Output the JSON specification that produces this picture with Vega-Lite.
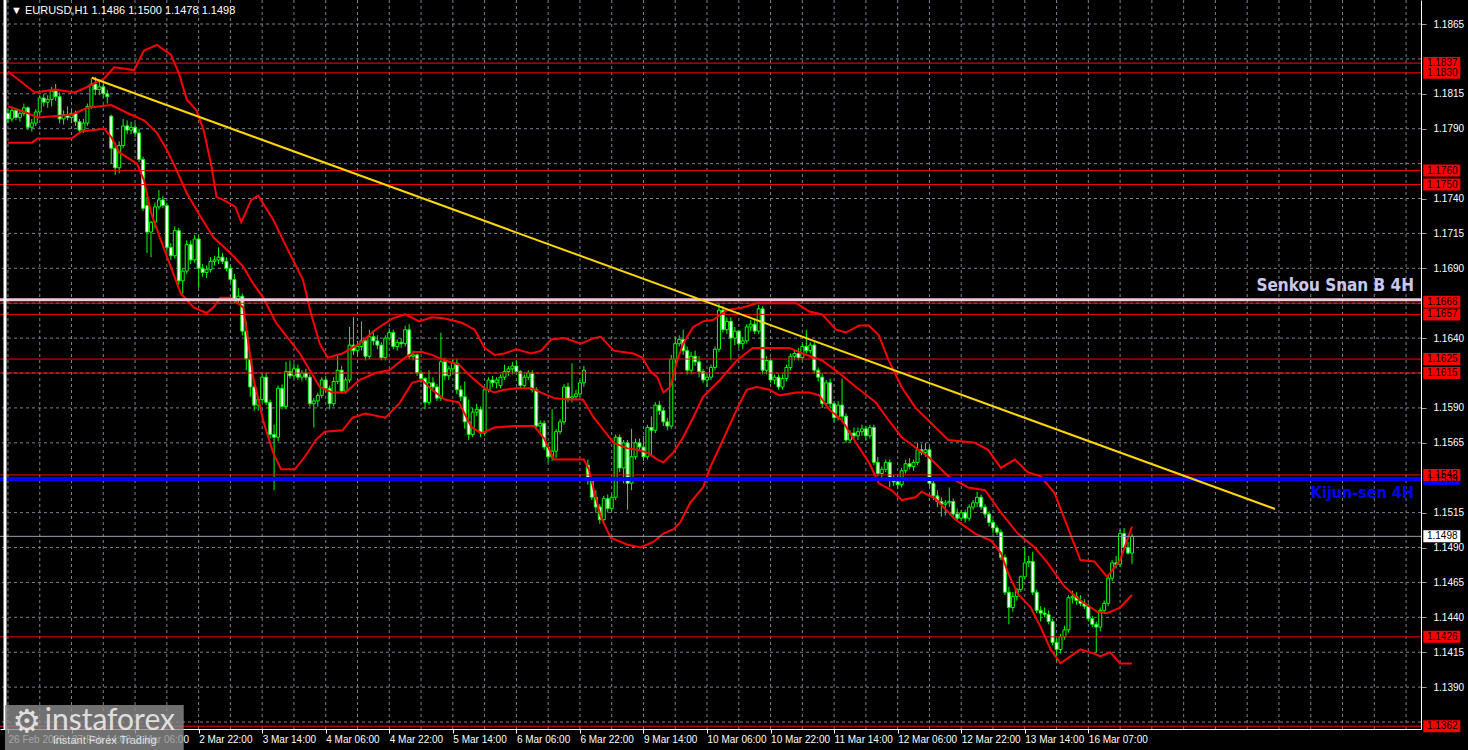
{
"$schema":"https://vega.github.io/schema/vega-lite/v6.json",
"width":1421,"height":729,
"autosize":{"type":"none"},
"padding":{"left":0,"top":0,"right":47,"bottom":21},
"background":"#000000",
"config":{"view":{"stroke":null},"axis":{"title":null,"labelFont":"Liberation Sans"},"text":{"font":"Liberation Sans"}},
"datasets":{
"vgrid":[{"i":0},{"i":8},{"i":16},{"i":24},{"i":32},{"i":40},{"i":48},{"i":56},{"i":64},{"i":72},{"i":80},{"i":88},{"i":96},{"i":104},{"i":112},{"i":120},{"i":128},{"i":136},{"i":144},{"i":152},{"i":160},{"i":168},{"i":176},{"i":184},{"i":192},{"i":200},{"i":208},{"i":216},{"i":224},{"i":232},{"i":240},{"i":248},{"i":256},{"i":264},{"i":272},{"i":280},{"i":288},{"i":296},{"i":304},{"i":312},{"i":320},{"i":328},{"i":336},{"i":344},{"i":352}],
"hgrid":[{"p":1.1365},{"p":1.139},{"p":1.1415},{"p":1.144},{"p":1.1465},{"p":1.149},{"p":1.1515},{"p":1.154},{"p":1.1565},{"p":1.159},{"p":1.1615},{"p":1.164},{"p":1.1665},{"p":1.169},{"p":1.1715},{"p":1.174},{"p":1.1765},{"p":1.179},{"p":1.1815},{"p":1.184},{"p":1.1865}],
"candles":[
{"i":0,"o":1.1801,"h":1.1804,"l":1.1794,"c":1.1797},
{"i":1,"o":1.1797,"h":1.1806,"l":1.1795,"c":1.1803},
{"i":2,"o":1.1803,"h":1.1805,"l":1.1796,"c":1.1798},
{"i":3,"o":1.1798,"h":1.1803,"l":1.1795,"c":1.1801},
{"i":4,"o":1.1801,"h":1.1808,"l":1.1799,"c":1.1805},
{"i":5,"o":1.1805,"h":1.1806,"l":1.1789,"c":1.1791},
{"i":6,"o":1.1791,"h":1.1797,"l":1.1788,"c":1.1794},
{"i":7,"o":1.1794,"h":1.1804,"l":1.1792,"c":1.1802},
{"i":8,"o":1.1802,"h":1.1814,"l":1.18,"c":1.1812},
{"i":9,"o":1.1812,"h":1.1815,"l":1.1806,"c":1.1809},
{"i":10,"o":1.1809,"h":1.1814,"l":1.1805,"c":1.1811},
{"i":11,"o":1.1811,"h":1.182,"l":1.1806,"c":1.1817},
{"i":12,"o":1.1817,"h":1.1822,"l":1.181,"c":1.1813},
{"i":13,"o":1.1813,"h":1.1816,"l":1.1794,"c":1.1797},
{"i":14,"o":1.1797,"h":1.1803,"l":1.1793,"c":1.18},
{"i":15,"o":1.18,"h":1.1806,"l":1.1796,"c":1.1798},
{"i":16,"o":1.1798,"h":1.1804,"l":1.1794,"c":1.1801},
{"i":17,"o":1.1801,"h":1.1803,"l":1.1792,"c":1.1795},
{"i":18,"o":1.1795,"h":1.1797,"l":1.1786,"c":1.1789},
{"i":19,"o":1.1789,"h":1.1797,"l":1.1787,"c":1.1794},
{"i":20,"o":1.1794,"h":1.1808,"l":1.1792,"c":1.1806},
{"i":21,"o":1.1806,"h":1.1826,"l":1.1804,"c":1.1822},
{"i":22,"o":1.1822,"h":1.1827,"l":1.1814,"c":1.1818},
{"i":23,"o":1.1818,"h":1.1824,"l":1.1814,"c":1.182},
{"i":24,"o":1.182,"h":1.1823,"l":1.1812,"c":1.1815},
{"i":25,"o":1.1815,"h":1.1818,"l":1.1808,"c":1.1813},
{"i":26,"o":1.1799,"h":1.18,"l":1.1765,"c":1.1776},
{"i":27,"o":1.1776,"h":1.178,"l":1.1757,"c":1.1762},
{"i":28,"o":1.1762,"h":1.1781,"l":1.1758,"c":1.1778},
{"i":29,"o":1.1778,"h":1.1797,"l":1.1776,"c":1.1792},
{"i":30,"o":1.1792,"h":1.1796,"l":1.1786,"c":1.1789},
{"i":31,"o":1.1789,"h":1.1795,"l":1.1786,"c":1.1791},
{"i":32,"o":1.1791,"h":1.1794,"l":1.1784,"c":1.1787},
{"i":33,"o":1.1787,"h":1.179,"l":1.1766,"c":1.1768},
{"i":34,"o":1.1768,"h":1.177,"l":1.1731,"c":1.1733},
{"i":35,"o":1.1735,"h":1.1741,"l":1.1701,"c":1.1716},
{"i":36,"o":1.1716,"h":1.1724,"l":1.1698,"c":1.1723},
{"i":37,"o":1.1723,"h":1.1737,"l":1.1719,"c":1.1734},
{"i":38,"o":1.1734,"h":1.1746,"l":1.1732,"c":1.1739},
{"i":39,"o":1.1739,"h":1.1742,"l":1.1733,"c":1.1735},
{"i":40,"o":1.1735,"h":1.1737,"l":1.1702,"c":1.1705},
{"i":41,"o":1.1705,"h":1.1708,"l":1.1696,"c":1.1699},
{"i":42,"o":1.1699,"h":1.172,"l":1.1697,"c":1.1717},
{"i":43,"o":1.1717,"h":1.1719,"l":1.1678,"c":1.1681},
{"i":44,"o":1.1681,"h":1.169,"l":1.1672,"c":1.1688},
{"i":45,"o":1.1688,"h":1.171,"l":1.1686,"c":1.1707},
{"i":46,"o":1.1707,"h":1.171,"l":1.1693,"c":1.1696},
{"i":47,"o":1.1696,"h":1.1714,"l":1.1694,"c":1.1711},
{"i":48,"o":1.1711,"h":1.1713,"l":1.1676,"c":1.169},
{"i":49,"o":1.169,"h":1.1693,"l":1.1684,"c":1.1687},
{"i":50,"o":1.1687,"h":1.1692,"l":1.1683,"c":1.1689},
{"i":51,"o":1.1689,"h":1.1698,"l":1.1687,"c":1.1695},
{"i":52,"o":1.1695,"h":1.1699,"l":1.1692,"c":1.1696},
{"i":53,"o":1.1696,"h":1.1705,"l":1.1693,"c":1.1698},
{"i":54,"o":1.1698,"h":1.1701,"l":1.1693,"c":1.1695},
{"i":55,"o":1.1695,"h":1.1698,"l":1.1688,"c":1.169},
{"i":56,"o":1.169,"h":1.1692,"l":1.168,"c":1.1682},
{"i":57,"o":1.1682,"h":1.1686,"l":1.1665,"c":1.1668},
{"i":58,"o":1.1668,"h":1.1676,"l":1.1664,"c":1.167},
{"i":59,"o":1.167,"h":1.1672,"l":1.1642,"c":1.1645},
{"i":60,"o":1.1645,"h":1.1652,"l":1.1617,"c":1.1625},
{"i":61,"o":1.1625,"h":1.1628,"l":1.1598,"c":1.1605},
{"i":62,"o":1.1605,"h":1.1609,"l":1.1588,"c":1.1592},
{"i":63,"o":1.1592,"h":1.1598,"l":1.1588,"c":1.1596},
{"i":64,"o":1.1596,"h":1.1614,"l":1.1594,"c":1.1612},
{"i":65,"o":1.1612,"h":1.1615,"l":1.1592,"c":1.1594},
{"i":66,"o":1.1594,"h":1.1596,"l":1.1568,"c":1.1571},
{"i":67,"o":1.1571,"h":1.1578,"l":1.1531,"c":1.1569},
{"i":68,"o":1.1569,"h":1.1606,"l":1.1566,"c":1.1604},
{"i":69,"o":1.1604,"h":1.1607,"l":1.1589,"c":1.1591},
{"i":70,"o":1.1591,"h":1.1623,"l":1.1589,"c":1.1616},
{"i":71,"o":1.1616,"h":1.1624,"l":1.1611,"c":1.1613},
{"i":72,"o":1.1613,"h":1.1622,"l":1.1611,"c":1.1618},
{"i":73,"o":1.1618,"h":1.1621,"l":1.161,"c":1.1612},
{"i":74,"o":1.1612,"h":1.1617,"l":1.1609,"c":1.1615},
{"i":75,"o":1.1615,"h":1.1618,"l":1.161,"c":1.1612},
{"i":76,"o":1.1612,"h":1.1614,"l":1.1591,"c":1.1593},
{"i":77,"o":1.1593,"h":1.1597,"l":1.1576,"c":1.1595},
{"i":78,"o":1.1595,"h":1.1601,"l":1.1591,"c":1.1599},
{"i":79,"o":1.1599,"h":1.1612,"l":1.1597,"c":1.161},
{"i":80,"o":1.161,"h":1.1613,"l":1.1601,"c":1.1604},
{"i":81,"o":1.1604,"h":1.1606,"l":1.1589,"c":1.1593},
{"i":82,"o":1.1593,"h":1.1612,"l":1.1591,"c":1.1609},
{"i":83,"o":1.1609,"h":1.1628,"l":1.1607,"c":1.1617},
{"i":84,"o":1.1617,"h":1.162,"l":1.16,"c":1.1602},
{"i":85,"o":1.1602,"h":1.1612,"l":1.16,"c":1.161},
{"i":86,"o":1.161,"h":1.1648,"l":1.1608,"c":1.1635},
{"i":87,"o":1.1635,"h":1.1655,"l":1.1628,"c":1.1631},
{"i":88,"o":1.1631,"h":1.1638,"l":1.1627,"c":1.1634},
{"i":89,"o":1.1634,"h":1.1652,"l":1.1631,"c":1.1638},
{"i":90,"o":1.1638,"h":1.164,"l":1.1624,"c":1.1627},
{"i":91,"o":1.1627,"h":1.1646,"l":1.1625,"c":1.1641},
{"i":92,"o":1.1641,"h":1.1644,"l":1.1635,"c":1.1638},
{"i":93,"o":1.1638,"h":1.1642,"l":1.1632,"c":1.1635},
{"i":94,"o":1.1635,"h":1.1637,"l":1.1624,"c":1.1626},
{"i":95,"o":1.1626,"h":1.1642,"l":1.1624,"c":1.164},
{"i":96,"o":1.164,"h":1.1647,"l":1.1638,"c":1.1644},
{"i":97,"o":1.1644,"h":1.1646,"l":1.1632,"c":1.1634},
{"i":98,"o":1.1634,"h":1.1639,"l":1.1631,"c":1.1637},
{"i":99,"o":1.1637,"h":1.164,"l":1.1633,"c":1.1636},
{"i":100,"o":1.1636,"h":1.1649,"l":1.1634,"c":1.1646},
{"i":101,"o":1.1646,"h":1.165,"l":1.1625,"c":1.1627},
{"i":102,"o":1.1627,"h":1.1631,"l":1.1624,"c":1.1628},
{"i":103,"o":1.1628,"h":1.1629,"l":1.1613,"c":1.1615},
{"i":104,"o":1.1615,"h":1.1617,"l":1.1608,"c":1.1611},
{"i":105,"o":1.1611,"h":1.1612,"l":1.1589,"c":1.1594},
{"i":106,"o":1.1594,"h":1.1617,"l":1.1592,"c":1.1608},
{"i":107,"o":1.1608,"h":1.1612,"l":1.1603,"c":1.1605},
{"i":108,"o":1.1605,"h":1.1607,"l":1.1595,"c":1.1597},
{"i":109,"o":1.1597,"h":1.1644,"l":1.1595,"c":1.1623},
{"i":110,"o":1.1623,"h":1.1626,"l":1.161,"c":1.1613},
{"i":111,"o":1.1613,"h":1.162,"l":1.161,"c":1.1618},
{"i":112,"o":1.1618,"h":1.1625,"l":1.1615,"c":1.1622},
{"i":113,"o":1.1622,"h":1.1625,"l":1.16,"c":1.1603},
{"i":114,"o":1.1603,"h":1.1606,"l":1.1595,"c":1.1598},
{"i":115,"o":1.1598,"h":1.1609,"l":1.1575,"c":1.158},
{"i":116,"o":1.158,"h":1.1596,"l":1.1567,"c":1.1571},
{"i":117,"o":1.1571,"h":1.159,"l":1.1569,"c":1.1587},
{"i":118,"o":1.1587,"h":1.1593,"l":1.1584,"c":1.1589},
{"i":119,"o":1.1589,"h":1.1591,"l":1.1569,"c":1.1572},
{"i":120,"o":1.1572,"h":1.1605,"l":1.157,"c":1.1603},
{"i":121,"o":1.1603,"h":1.1612,"l":1.1601,"c":1.161},
{"i":122,"o":1.161,"h":1.1613,"l":1.1605,"c":1.1608},
{"i":123,"o":1.1608,"h":1.1612,"l":1.1604,"c":1.161},
{"i":124,"o":1.1606,"h":1.1614,"l":1.1604,"c":1.1612},
{"i":125,"o":1.1612,"h":1.1621,"l":1.161,"c":1.1616},
{"i":126,"o":1.1616,"h":1.162,"l":1.1613,"c":1.1618},
{"i":127,"o":1.1618,"h":1.1623,"l":1.1614,"c":1.162},
{"i":128,"o":1.162,"h":1.1624,"l":1.1614,"c":1.1616},
{"i":129,"o":1.1616,"h":1.1617,"l":1.1604,"c":1.1606},
{"i":130,"o":1.1606,"h":1.1614,"l":1.1604,"c":1.1612},
{"i":131,"o":1.1612,"h":1.1617,"l":1.161,"c":1.1615},
{"i":132,"o":1.1615,"h":1.1617,"l":1.1601,"c":1.1603},
{"i":133,"o":1.1603,"h":1.1605,"l":1.1574,"c":1.1577},
{"i":134,"o":1.1577,"h":1.1581,"l":1.1571,"c":1.1579},
{"i":135,"o":1.1579,"h":1.1581,"l":1.156,"c":1.1562},
{"i":136,"o":1.1562,"h":1.1565,"l":1.1551,"c":1.1555},
{"i":137,"o":1.1555,"h":1.1589,"l":1.1552,"c":1.1559},
{"i":138,"o":1.1559,"h":1.1575,"l":1.1554,"c":1.1573},
{"i":139,"o":1.1573,"h":1.1582,"l":1.1571,"c":1.158},
{"i":140,"o":1.158,"h":1.1607,"l":1.1578,"c":1.1605},
{"i":141,"o":1.1605,"h":1.1608,"l":1.1594,"c":1.1597},
{"i":142,"o":1.1597,"h":1.1622,"l":1.1594,"c":1.1598},
{"i":143,"o":1.1598,"h":1.1603,"l":1.1596,"c":1.16},
{"i":144,"o":1.16,"h":1.161,"l":1.1598,"c":1.1608},
{"i":145,"o":1.1608,"h":1.162,"l":1.1605,"c":1.1617},
{"i":146,"o":1.1549,"h":1.1553,"l":1.1535,"c":1.1538},
{"i":147,"o":1.1538,"h":1.154,"l":1.1524,"c":1.1526},
{"i":148,"o":1.1526,"h":1.1531,"l":1.1515,"c":1.1519},
{"i":149,"o":1.1519,"h":1.1521,"l":1.1507,"c":1.151},
{"i":150,"o":1.151,"h":1.1527,"l":1.1508,"c":1.1525},
{"i":151,"o":1.1525,"h":1.1528,"l":1.1515,"c":1.1518},
{"i":152,"o":1.1518,"h":1.1528,"l":1.1516,"c":1.1526},
{"i":153,"o":1.1526,"h":1.1571,"l":1.1524,"c":1.1569},
{"i":154,"o":1.1569,"h":1.1571,"l":1.1544,"c":1.1547},
{"i":155,"o":1.1547,"h":1.1567,"l":1.1536,"c":1.1565},
{"i":156,"o":1.1565,"h":1.1567,"l":1.1517,"c":1.1536},
{"i":157,"o":1.1536,"h":1.1575,"l":1.1531,"c":1.1555},
{"i":158,"o":1.1555,"h":1.1568,"l":1.1553,"c":1.1565},
{"i":159,"o":1.1565,"h":1.1568,"l":1.156,"c":1.1562},
{"i":160,"o":1.1562,"h":1.157,"l":1.1552,"c":1.1555},
{"i":161,"o":1.1555,"h":1.1578,"l":1.1553,"c":1.1576},
{"i":162,"o":1.1576,"h":1.1584,"l":1.1555,"c":1.1574},
{"i":163,"o":1.1574,"h":1.1594,"l":1.1572,"c":1.1592},
{"i":164,"o":1.1592,"h":1.1595,"l":1.1585,"c":1.1588},
{"i":165,"o":1.1588,"h":1.159,"l":1.1577,"c":1.158},
{"i":166,"o":1.158,"h":1.1583,"l":1.1574,"c":1.1577},
{"i":167,"o":1.1577,"h":1.1628,"l":1.1575,"c":1.1625},
{"i":168,"o":1.1625,"h":1.1641,"l":1.161,"c":1.1636},
{"i":169,"o":1.1636,"h":1.1642,"l":1.1634,"c":1.1639},
{"i":170,"o":1.1639,"h":1.1646,"l":1.1628,"c":1.1631},
{"i":171,"o":1.1631,"h":1.1634,"l":1.1614,"c":1.1617},
{"i":172,"o":1.1617,"h":1.163,"l":1.1614,"c":1.1627},
{"i":173,"o":1.1627,"h":1.1631,"l":1.162,"c":1.1623},
{"i":174,"o":1.1623,"h":1.1627,"l":1.1612,"c":1.1616},
{"i":175,"o":1.1616,"h":1.1618,"l":1.1608,"c":1.161},
{"i":176,"o":1.161,"h":1.1614,"l":1.1605,"c":1.1612},
{"i":177,"o":1.1612,"h":1.1621,"l":1.161,"c":1.1619},
{"i":178,"o":1.1619,"h":1.1634,"l":1.1617,"c":1.1632},
{"i":179,"o":1.1632,"h":1.1665,"l":1.163,"c":1.166},
{"i":180,"o":1.166,"h":1.1663,"l":1.1644,"c":1.1646},
{"i":181,"o":1.1646,"h":1.1655,"l":1.1643,"c":1.1652},
{"i":182,"o":1.1652,"h":1.1655,"l":1.1624,"c":1.164},
{"i":183,"o":1.164,"h":1.1648,"l":1.1635,"c":1.1645},
{"i":184,"o":1.1645,"h":1.1646,"l":1.1633,"c":1.1636},
{"i":185,"o":1.1636,"h":1.1641,"l":1.1632,"c":1.1638},
{"i":186,"o":1.1638,"h":1.165,"l":1.1636,"c":1.1648},
{"i":187,"o":1.1648,"h":1.1653,"l":1.1645,"c":1.165},
{"i":188,"o":1.165,"h":1.1654,"l":1.1643,"c":1.1645},
{"i":189,"o":1.1645,"h":1.1664,"l":1.1643,"c":1.1661},
{"i":190,"o":1.1661,"h":1.1663,"l":1.1614,"c":1.1617},
{"i":191,"o":1.1617,"h":1.1627,"l":1.1614,"c":1.1624},
{"i":192,"o":1.1624,"h":1.1626,"l":1.1608,"c":1.161},
{"i":193,"o":1.161,"h":1.1614,"l":1.1607,"c":1.1612},
{"i":194,"o":1.1612,"h":1.1614,"l":1.1603,"c":1.1605},
{"i":195,"o":1.1605,"h":1.1614,"l":1.1603,"c":1.1611},
{"i":196,"o":1.1611,"h":1.1621,"l":1.1609,"c":1.1619},
{"i":197,"o":1.1619,"h":1.1629,"l":1.1617,"c":1.1627},
{"i":198,"o":1.1627,"h":1.1631,"l":1.1624,"c":1.1629},
{"i":199,"o":1.1629,"h":1.1633,"l":1.1624,"c":1.1626},
{"i":200,"o":1.1626,"h":1.1636,"l":1.1624,"c":1.1634},
{"i":201,"o":1.1634,"h":1.1646,"l":1.1629,"c":1.1631},
{"i":202,"o":1.1631,"h":1.1637,"l":1.1629,"c":1.1635},
{"i":203,"o":1.1635,"h":1.1637,"l":1.1615,"c":1.1617},
{"i":204,"o":1.1617,"h":1.1619,"l":1.1609,"c":1.1612},
{"i":205,"o":1.1612,"h":1.1615,"l":1.159,"c":1.1593},
{"i":206,"o":1.1593,"h":1.161,"l":1.1591,"c":1.1608},
{"i":207,"o":1.1608,"h":1.1611,"l":1.159,"c":1.1593},
{"i":208,"o":1.1593,"h":1.1595,"l":1.158,"c":1.1583},
{"i":209,"o":1.1583,"h":1.1595,"l":1.1581,"c":1.1592},
{"i":210,"o":1.1592,"h":1.1611,"l":1.158,"c":1.1584},
{"i":211,"o":1.1584,"h":1.1586,"l":1.1565,"c":1.1567},
{"i":212,"o":1.1567,"h":1.1574,"l":1.1565,"c":1.1572},
{"i":213,"o":1.1572,"h":1.1576,"l":1.1568,"c":1.157},
{"i":214,"o":1.157,"h":1.1576,"l":1.1567,"c":1.1573},
{"i":215,"o":1.1573,"h":1.1578,"l":1.157,"c":1.1575},
{"i":216,"o":1.1575,"h":1.1577,"l":1.1567,"c":1.157},
{"i":217,"o":1.157,"h":1.1578,"l":1.1568,"c":1.1576},
{"i":218,"o":1.1576,"h":1.1578,"l":1.1549,"c":1.1551},
{"i":219,"o":1.1551,"h":1.1555,"l":1.1541,"c":1.1543},
{"i":220,"o":1.1543,"h":1.1548,"l":1.154,"c":1.1546},
{"i":221,"o":1.1546,"h":1.1553,"l":1.1544,"c":1.1551},
{"i":222,"o":1.1551,"h":1.1553,"l":1.1533,"c":1.1539},
{"i":223,"o":1.1539,"h":1.1542,"l":1.1534,"c":1.1537},
{"i":224,"o":1.1537,"h":1.1541,"l":1.1532,"c":1.1535},
{"i":225,"o":1.1535,"h":1.1547,"l":1.1533,"c":1.1545},
{"i":226,"o":1.1545,"h":1.1553,"l":1.1543,"c":1.155},
{"i":227,"o":1.155,"h":1.1554,"l":1.1546,"c":1.1548},
{"i":228,"o":1.1548,"h":1.1553,"l":1.1545,"c":1.1551},
{"i":229,"o":1.1551,"h":1.1565,"l":1.1549,"c":1.156},
{"i":230,"o":1.156,"h":1.1564,"l":1.1556,"c":1.1558},
{"i":231,"o":1.1558,"h":1.1565,"l":1.1555,"c":1.156},
{"i":232,"o":1.156,"h":1.1562,"l":1.1534,"c":1.1536},
{"i":233,"o":1.1536,"h":1.1539,"l":1.1524,"c":1.1527},
{"i":234,"o":1.1527,"h":1.1531,"l":1.1519,"c":1.1523},
{"i":235,"o":1.1523,"h":1.1526,"l":1.1512,"c":1.1521},
{"i":236,"o":1.1521,"h":1.1524,"l":1.1513,"c":1.1522},
{"i":237,"o":1.1522,"h":1.1533,"l":1.1519,"c":1.1523},
{"i":238,"o":1.1523,"h":1.1525,"l":1.1512,"c":1.1514},
{"i":239,"o":1.1514,"h":1.1518,"l":1.1509,"c":1.1511},
{"i":240,"o":1.1511,"h":1.1517,"l":1.1509,"c":1.1515},
{"i":241,"o":1.1515,"h":1.1517,"l":1.1508,"c":1.1511},
{"i":242,"o":1.1511,"h":1.1521,"l":1.1509,"c":1.1519},
{"i":243,"o":1.1519,"h":1.1524,"l":1.1517,"c":1.1522},
{"i":244,"o":1.1522,"h":1.153,"l":1.1519,"c":1.1526},
{"i":245,"o":1.1526,"h":1.1528,"l":1.1517,"c":1.1519},
{"i":246,"o":1.1519,"h":1.1521,"l":1.1511,"c":1.1514},
{"i":247,"o":1.1514,"h":1.1516,"l":1.1505,"c":1.1508},
{"i":248,"o":1.1508,"h":1.151,"l":1.15,"c":1.1504},
{"i":249,"o":1.1504,"h":1.1506,"l":1.1499,"c":1.1501},
{"i":250,"o":1.1501,"h":1.1503,"l":1.1481,"c":1.1483},
{"i":251,"o":1.1483,"h":1.1485,"l":1.1456,"c":1.1458},
{"i":252,"o":1.1458,"h":1.1462,"l":1.1435,"c":1.1447},
{"i":253,"o":1.1447,"h":1.1458,"l":1.1444,"c":1.1455},
{"i":254,"o":1.1455,"h":1.1461,"l":1.1452,"c":1.146},
{"i":255,"o":1.146,"h":1.147,"l":1.1458,"c":1.1469},
{"i":256,"o":1.1469,"h":1.149,"l":1.1467,"c":1.1479},
{"i":257,"o":1.1479,"h":1.1484,"l":1.1476,"c":1.148},
{"i":258,"o":1.148,"h":1.1487,"l":1.1456,"c":1.1458},
{"i":259,"o":1.1458,"h":1.146,"l":1.1443,"c":1.1445},
{"i":260,"o":1.1445,"h":1.1448,"l":1.1437,"c":1.1443},
{"i":261,"o":1.1443,"h":1.1447,"l":1.144,"c":1.1442},
{"i":262,"o":1.1442,"h":1.1445,"l":1.1435,"c":1.1437},
{"i":263,"o":1.1437,"h":1.1439,"l":1.142,"c":1.1422},
{"i":264,"o":1.1422,"h":1.1425,"l":1.1409,"c":1.1417},
{"i":265,"o":1.1417,"h":1.1428,"l":1.1414,"c":1.1426},
{"i":266,"o":1.1426,"h":1.1434,"l":1.1424,"c":1.1431},
{"i":267,"o":1.1431,"h":1.1456,"l":1.1429,"c":1.1454},
{"i":268,"o":1.1454,"h":1.1459,"l":1.145,"c":1.1455},
{"i":269,"o":1.1455,"h":1.1458,"l":1.1449,"c":1.1452},
{"i":270,"o":1.1452,"h":1.1456,"l":1.1448,"c":1.145},
{"i":271,"o":1.145,"h":1.1453,"l":1.1446,"c":1.1448},
{"i":272,"o":1.1448,"h":1.145,"l":1.1437,"c":1.1439},
{"i":273,"o":1.1439,"h":1.1441,"l":1.1433,"c":1.1435},
{"i":274,"o":1.1435,"h":1.1437,"l":1.1415,"c":1.1433},
{"i":275,"o":1.1433,"h":1.1447,"l":1.143,"c":1.1445},
{"i":276,"o":1.1445,"h":1.1452,"l":1.1443,"c":1.145},
{"i":277,"o":1.145,"h":1.147,"l":1.1448,"c":1.1468},
{"i":278,"o":1.1468,"h":1.1481,"l":1.1466,"c":1.1479},
{"i":279,"o":1.1479,"h":1.1484,"l":1.1475,"c":1.1478},
{"i":280,"o":1.1478,"h":1.1503,"l":1.1476,"c":1.15},
{"i":281,"o":1.15,"h":1.1504,"l":1.1488,"c":1.149},
{"i":282,"o":1.149,"h":1.1494,"l":1.1485,"c":1.1486},
{"i":283,"o":1.1486,"h":1.15,"l":1.1478,"c":1.1498}
],
"bb":[
{"b":"u","i":0,"p":1.1831},{"b":"u","i":6.75,"p":1.1816},{"b":"u","i":11.75,"p":1.1818},{"b":"u","i":16.75,"p":1.1816},{"b":"u","i":19.25,"p":1.1819},{"b":"u","i":24.25,"p":1.1826},{"b":"u","i":26.75,"p":1.1834},{"b":"u","i":31.75,"p":1.1832},{"b":"u","i":34.25,"p":1.1846},{"b":"u","i":37.5,"p":1.185},{"b":"u","i":41,"p":1.1843},{"b":"u","i":43,"p":1.183},{"b":"u","i":45,"p":1.1811},{"b":"u","i":47.5,"p":1.1803},{"b":"u","i":49.25,"p":1.1789},{"b":"u","i":51.25,"p":1.1763},{"b":"u","i":52.5,"p":1.1741},{"b":"u","i":54.25,"p":1.1739},{"b":"u","i":57.25,"p":1.1734},{"b":"u","i":58.75,"p":1.1723},{"b":"u","i":61.25,"p":1.1739},{"b":"u","i":63,"p":1.1742},{"b":"u","i":66.75,"p":1.1725},{"b":"u","i":70.5,"p":1.1703},{"b":"u","i":74.25,"p":1.1682},{"b":"u","i":76.25,"p":1.1658},{"b":"u","i":78.5,"p":1.1636},{"b":"u","i":80.5,"p":1.1626},{"b":"u","i":84.25,"p":1.1629},{"b":"u","i":88.5,"p":1.1636},{"b":"u","i":92.5,"p":1.1646},{"b":"u","i":96.75,"p":1.1654},{"b":"u","i":100,"p":1.1657},{"b":"u","i":103.5,"p":1.1652},{"b":"u","i":106.75,"p":1.1655},{"b":"u","i":110,"p":1.1654},{"b":"u","i":114.25,"p":1.1651},{"b":"u","i":117.5,"p":1.1646},{"b":"u","i":120,"p":1.1633},{"b":"u","i":122.5,"p":1.1628},{"b":"u","i":125,"p":1.1629},{"b":"u","i":128,"p":1.1632},{"b":"u","i":131.75,"p":1.1629},{"b":"u","i":134.25,"p":1.1631},{"b":"u","i":136.75,"p":1.1639},{"b":"u","i":140,"p":1.164},{"b":"u","i":144.25,"p":1.1636},{"b":"u","i":147.5,"p":1.164},{"b":"u","i":149.25,"p":1.1641},{"b":"u","i":152.5,"p":1.1631},{"b":"u","i":157.5,"p":1.1629},{"b":"u","i":159.75,"p":1.1626},{"b":"u","i":161.75,"p":1.1616},{"b":"u","i":163.5,"p":1.1612},{"b":"u","i":165,"p":1.1601},{"b":"u","i":166.75,"p":1.1605},{"b":"u","i":168.5,"p":1.1624},{"b":"u","i":170,"p":1.1636},{"b":"u","i":172.5,"p":1.1648},{"b":"u","i":175,"p":1.1652},{"b":"u","i":177.5,"p":1.1653},{"b":"u","i":181,"p":1.166},{"b":"u","i":185,"p":1.1662},{"b":"u","i":188.5,"p":1.1665},{"b":"u","i":198.5,"p":1.1665},{"b":"u","i":201.75,"p":1.1659},{"b":"u","i":205,"p":1.1657},{"b":"u","i":208.5,"p":1.1646},{"b":"u","i":211,"p":1.1644},{"b":"u","i":214.25,"p":1.1649},{"b":"u","i":216.75,"p":1.1649},{"b":"u","i":219.25,"p":1.1642},{"b":"u","i":221.75,"p":1.1624},{"b":"u","i":225,"p":1.1605},{"b":"u","i":228.5,"p":1.159},{"b":"u","i":231.75,"p":1.1581},{"b":"u","i":236.75,"p":1.1567},{"b":"u","i":243.5,"p":1.1565},{"b":"u","i":246.75,"p":1.156},{"b":"u","i":250,"p":1.1547},{"b":"u","i":253.5,"p":1.1553},{"b":"u","i":256.75,"p":1.1544},{"b":"u","i":260,"p":1.1541},{"b":"u","i":263.5,"p":1.1529},{"b":"u","i":266.75,"p":1.1505},{"b":"u","i":270,"p":1.1481},{"b":"u","i":273.5,"p":1.148},{"b":"u","i":276.75,"p":1.1469},{"b":"u","i":280,"p":1.1481},{"b":"u","i":283,"p":1.1505},
{"b":"m","i":0,"p":1.1806},{"b":"m","i":4.25,"p":1.1802},{"b":"m","i":7.5,"p":1.1798},{"b":"m","i":16,"p":1.18},{"b":"m","i":20,"p":1.1805},{"b":"m","i":26,"p":1.1807},{"b":"m","i":31,"p":1.18},{"b":"m","i":34.25,"p":1.1796},{"b":"m","i":37.5,"p":1.1787},{"b":"m","i":40,"p":1.1775},{"b":"m","i":42.5,"p":1.176},{"b":"m","i":45,"p":1.1744},{"b":"m","i":48.5,"p":1.1727},{"b":"m","i":51.75,"p":1.1712},{"b":"m","i":56,"p":1.1701},{"b":"m","i":59.25,"p":1.1691},{"b":"m","i":61.75,"p":1.1679},{"b":"m","i":64.25,"p":1.1669},{"b":"m","i":67.5,"p":1.1651},{"b":"m","i":73.5,"p":1.1629},{"b":"m","i":78.5,"p":1.1605},{"b":"m","i":81.75,"p":1.1601},{"b":"m","i":85,"p":1.1601},{"b":"m","i":88.5,"p":1.161},{"b":"m","i":92.5,"p":1.1615},{"b":"m","i":96,"p":1.1617},{"b":"m","i":100,"p":1.1626},{"b":"m","i":102.25,"p":1.163},{"b":"m","i":104.25,"p":1.163},{"b":"m","i":106.75,"p":1.1628},{"b":"m","i":110,"p":1.1624},{"b":"m","i":113.5,"p":1.1621},{"b":"m","i":116.75,"p":1.1612},{"b":"m","i":120,"p":1.1604},{"b":"m","i":122.5,"p":1.1601},{"b":"m","i":125,"p":1.1603},{"b":"m","i":128,"p":1.1604},{"b":"m","i":131.75,"p":1.1604},{"b":"m","i":134.25,"p":1.1601},{"b":"m","i":137.5,"p":1.1597},{"b":"m","i":141,"p":1.1596},{"b":"m","i":144.75,"p":1.1596},{"b":"m","i":147.5,"p":1.1583},{"b":"m","i":150,"p":1.1574},{"b":"m","i":152.5,"p":1.1565},{"b":"m","i":156,"p":1.1561},{"b":"m","i":158.5,"p":1.156},{"b":"m","i":161,"p":1.1558},{"b":"m","i":163.5,"p":1.1553},{"b":"m","i":165,"p":1.1551},{"b":"m","i":167.5,"p":1.1558},{"b":"m","i":170,"p":1.1569},{"b":"m","i":172.5,"p":1.1583},{"b":"m","i":175,"p":1.1598},{"b":"m","i":179.25,"p":1.161},{"b":"m","i":183.5,"p":1.1624},{"b":"m","i":187.5,"p":1.1633},{"b":"m","i":191,"p":1.1633},{"b":"m","i":196.75,"p":1.1633},{"b":"m","i":200,"p":1.1629},{"b":"m","i":205,"p":1.1624},{"b":"m","i":209.25,"p":1.1615},{"b":"m","i":213.5,"p":1.1605},{"b":"m","i":218.5,"p":1.1594},{"b":"m","i":221.75,"p":1.1581},{"b":"m","i":225,"p":1.1569},{"b":"m","i":229.25,"p":1.156},{"b":"m","i":231.75,"p":1.1555},{"b":"m","i":236.75,"p":1.1541},{"b":"m","i":241.75,"p":1.1533},{"b":"m","i":246,"p":1.1531},{"b":"m","i":250,"p":1.1515},{"b":"m","i":254.25,"p":1.15},{"b":"m","i":258.5,"p":1.149},{"b":"m","i":261.75,"p":1.1479},{"b":"m","i":266,"p":1.1462},{"b":"m","i":270,"p":1.1452},{"b":"m","i":274.25,"p":1.1444},{"b":"m","i":276.75,"p":1.1443},{"b":"m","i":280,"p":1.1447},{"b":"m","i":283,"p":1.1456},
{"b":"l","i":0,"p":1.178},{"b":"l","i":6,"p":1.178},{"b":"l","i":7.5,"p":1.1783},{"b":"l","i":16,"p":1.1783},{"b":"l","i":18.5,"p":1.1788},{"b":"l","i":24.25,"p":1.179},{"b":"l","i":26,"p":1.1784},{"b":"l","i":28,"p":1.1773},{"b":"l","i":32.5,"p":1.1765},{"b":"l","i":34.25,"p":1.1753},{"b":"l","i":36,"p":1.173},{"b":"l","i":38.5,"p":1.171},{"b":"l","i":41,"p":1.1691},{"b":"l","i":43.5,"p":1.1672},{"b":"l","i":46.75,"p":1.1662},{"b":"l","i":50,"p":1.1658},{"b":"l","i":51.75,"p":1.1662},{"b":"l","i":53.5,"p":1.1669},{"b":"l","i":56,"p":1.1669},{"b":"l","i":59.25,"p":1.1662},{"b":"l","i":61.75,"p":1.1612},{"b":"l","i":64.25,"p":1.1581},{"b":"l","i":66.75,"p":1.1558},{"b":"l","i":68.75,"p":1.1546},{"b":"l","i":72.25,"p":1.1546},{"b":"l","i":74.75,"p":1.1555},{"b":"l","i":77.5,"p":1.1567},{"b":"l","i":79.75,"p":1.1573},{"b":"l","i":84.25,"p":1.1574},{"b":"l","i":86.75,"p":1.1583},{"b":"l","i":90,"p":1.1586},{"b":"l","i":95,"p":1.1583},{"b":"l","i":98.5,"p":1.1593},{"b":"l","i":101.75,"p":1.1608},{"b":"l","i":104.25,"p":1.161},{"b":"l","i":106.75,"p":1.1603},{"b":"l","i":110,"p":1.1596},{"b":"l","i":113.5,"p":1.1594},{"b":"l","i":116.75,"p":1.1576},{"b":"l","i":119.25,"p":1.1572},{"b":"l","i":122.5,"p":1.1576},{"b":"l","i":127.5,"p":1.1577},{"b":"l","i":132.5,"p":1.1577},{"b":"l","i":135,"p":1.1568},{"b":"l","i":137.5,"p":1.1553},{"b":"l","i":141,"p":1.1553},{"b":"l","i":145,"p":1.1553},{"b":"l","i":146.25,"p":1.1546},{"b":"l","i":147.5,"p":1.1531},{"b":"l","i":149.25,"p":1.1512},{"b":"l","i":151.75,"p":1.1497},{"b":"l","i":156,"p":1.1492},{"b":"l","i":159.25,"p":1.149},{"b":"l","i":162.5,"p":1.1494},{"b":"l","i":165,"p":1.15},{"b":"l","i":167.5,"p":1.1503},{"b":"l","i":169.25,"p":1.1508},{"b":"l","i":171.75,"p":1.1522},{"b":"l","i":175,"p":1.1533},{"b":"l","i":176.75,"p":1.1547},{"b":"l","i":180,"p":1.1567},{"b":"l","i":183.5,"p":1.1589},{"b":"l","i":186,"p":1.1603},{"b":"l","i":188.5,"p":1.1605},{"b":"l","i":191.75,"p":1.1603},{"b":"l","i":194.25,"p":1.1599},{"b":"l","i":198.5,"p":1.1601},{"b":"l","i":201.75,"p":1.1601},{"b":"l","i":204.25,"p":1.1599},{"b":"l","i":206.75,"p":1.1589},{"b":"l","i":210,"p":1.1581},{"b":"l","i":213.5,"p":1.1565},{"b":"l","i":216.75,"p":1.1551},{"b":"l","i":219.25,"p":1.1536},{"b":"l","i":222.5,"p":1.1531},{"b":"l","i":225,"p":1.1524},{"b":"l","i":228.5,"p":1.1526},{"b":"l","i":230,"p":1.153},{"b":"l","i":233.5,"p":1.1525},{"b":"l","i":238.5,"p":1.151},{"b":"l","i":243.5,"p":1.15},{"b":"l","i":247.5,"p":1.1495},{"b":"l","i":250,"p":1.1486},{"b":"l","i":251.75,"p":1.1472},{"b":"l","i":254.25,"p":1.1457},{"b":"l","i":257.5,"p":1.1447},{"b":"l","i":260,"p":1.1433},{"b":"l","i":262.5,"p":1.1417},{"b":"l","i":265,"p":1.1407},{"b":"l","i":267.5,"p":1.1412},{"b":"l","i":270,"p":1.1417},{"b":"l","i":273.5,"p":1.1414},{"b":"l","i":275,"p":1.1412},{"b":"l","i":277.5,"p":1.1415},{"b":"l","i":280,"p":1.1407},{"b":"l","i":283,"p":1.1407}
],
"levels":[
{"p":1.1837,"k":"red"},{"p":1.183,"k":"red"},{"p":1.176,"k":"red"},{"p":1.175,"k":"red"},{"p":1.1665,"k":"red"},{"p":1.16675,"k":"pink"},{"p":1.1657,"k":"red"},{"p":1.1625,"k":"red"},{"p":1.1615,"k":"red"},{"p":1.1542,"k":"red"},{"p":1.1539,"k":"blue"},{"p":1.1498,"k":"gray"},{"p":1.1426,"k":"red"},{"p":1.1362,"k":"red"}
],
"boxes":[
{"p":1.1837,"k":"red"},{"p":1.183,"k":"red"},{"p":1.176,"k":"red"},{"p":1.175,"k":"red"},{"p":1.1666,"k":"red"},{"p":1.1657,"k":"red"},{"p":1.1625,"k":"red"},{"p":1.1615,"k":"red"},{"p":1.1539,"k":"blue"},{"p":1.1542,"k":"red"},{"p":1.1498,"k":"white"},{"p":1.1426,"k":"red"},{"p":1.1362,"k":"red"}
],
"trend":[{"i":21.1,"p":1.18265},{"i":319,"p":1.15176}]
},
"layer":[
{"data":{"name":"vgrid"},
 "mark":{"type":"rule","color":"#7a8290","strokeDash":[3,3],"strokeWidth":1},
 "encoding":{"x":{"field":"i","type":"quantitative","scale":{"domain":[-0.75,354.5],"nice":false,"zero":false},
  "axis":{"values":[0,16,32,48,64,80,96,112,128,144,160,176,192,208,224,240,256,272],
   "labelExpr":"['26 Feb 2026','27 Feb 14:00','2 Mar 06:00','2 Mar 22:00','3 Mar 14:00','4 Mar 06:00','4 Mar 22:00','5 Mar 14:00','6 Mar 06:00','6 Mar 22:00','9 Mar 14:00','10 Mar 06:00','10 Mar 22:00','11 Mar 14:00','12 Mar 06:00','12 Mar 22:00','13 Mar 14:00','16 Mar 07:00'][round(datum.value/16)]",
   "labelAlign":"left","labelColor":"#ffffff","labelFontSize":10,"labelPadding":1,"tickSize":4,"tickColor":"#ffffff","domainColor":"#ffffff","grid":false,"labelOverlap":false,"labelFlush":false,"labelBound":false}}}},
{"data":{"name":"hgrid"},
 "mark":{"type":"rule","color":"#7a8290","strokeDash":[3,3],"strokeWidth":1},
 "encoding":{"y":{"field":"p","type":"quantitative","scale":{"domain":[1.136,1.18822],"nice":false,"zero":false},
   "axis":{"orient":"right","values":[1.139,1.1415,1.144,1.1465,1.149,1.1515,1.1565,1.159,1.164,1.169,1.1715,1.174,1.179,1.1815,1.1865],
    "format":".4f","labelColor":"#ffffff","labelFontSize":10,"labelPadding":7,"tickSize":5,"tickColor":"#9aa0aa","domainColor":"#ffffff","grid":false,"labelOverlap":false,"labelFlush":false,"labelBound":false}}}},
{"data":{"name":"candles"},
 "mark":{"type":"rule","color":"#00ff00","strokeWidth":1},
 "encoding":{"x":{"field":"i","type":"quantitative"},"y":{"field":"l","type":"quantitative"},"y2":{"field":"h"}}},
{"data":{"name":"candles"},
 "mark":{"type":"bar","width":3,"stroke":"#00ff00","strokeWidth":1},
 "encoding":{"x":{"field":"i","type":"quantitative"},"y":{"field":"o","type":"quantitative"},"y2":{"field":"c"},
  "fill":{"condition":{"test":"datum.c < datum.o","value":"#ffffff"},"value":"#000000"}}},
{"data":{"name":"bb"},
 "mark":{"type":"line","color":"#ff0000","strokeWidth":2},
 "encoding":{"x":{"field":"i","type":"quantitative"},"y":{"field":"p","type":"quantitative"},"detail":{"field":"b"}}},
{"data":{"name":"levels"},
 "mark":{"type":"rule"},
 "encoding":{"y":{"field":"p","type":"quantitative"},
  "color":{"condition":[{"test":"datum.k=='pink'","value":"#f0c8dc"},{"test":"datum.k=='blue'","value":"#0000ff"},{"test":"datum.k=='gray'","value":"#9aa0aa"}],"value":"#ff0000"},
  "strokeWidth":{"condition":[{"test":"datum.k=='pink'","value":3},{"test":"datum.k=='blue'","value":4}],"value":1}}},
{"data":{"name":"trend"},
 "mark":{"type":"line","color":"#ffd700","strokeWidth":2,"clip":true},
 "encoding":{"x":{"field":"i","type":"quantitative"},"y":{"field":"p","type":"quantitative"}}},
{"data":{"name":"boxes"},
 "mark":{"type":"tick","orient":"horizontal","size":37,"thickness":12,"clip":false,"opacity":1},
 "encoding":{"x":{"datum":361},"y":{"field":"p","type":"quantitative"},
  "color":{"condition":[{"test":"datum.k=='blue'","value":"#0000ff"},{"test":"datum.k=='white'","value":"#ffffff"}],"value":"#ff0000"}}},
{"data":{"name":"boxes"},
 "mark":{"type":"text","align":"left","baseline":"middle","fontSize":10,"color":"#000000","clip":false},
 "encoding":{"x":{"datum":357.25},"y":{"field":"p","type":"quantitative"},"text":{"field":"p","format":".4f"}}},
{"data":{"values":[{"t":"Senkou Snan B 4H"}]},
 "mark":{"type":"text","align":"right","baseline":"middle","fontSize":17,"fontWeight":"bold","font":"Liberation Sans Narrow, DejaVu Sans Condensed, Liberation Sans","color":"#c8c8f0"},
 "encoding":{"x":{"datum":354},"y":{"datum":1.16773},"text":{"field":"t"}}},
{"data":{"values":[{"t":"Kijun-sen 4H"}]},
 "mark":{"type":"text","align":"right","baseline":"middle","fontSize":16,"fontWeight":"bold","font":"Liberation Sans Narrow, DejaVu Sans Condensed, Liberation Sans","color":"#0000ff"},
 "encoding":{"x":{"datum":354},"y":{"datum":1.15291},"text":{"field":"t"}}},
{"data":{"values":[{"t":"▼ EURUSD,H1  1.1486 1.1500 1.1478 1.1498"}]},
 "mark":{"type":"text","align":"left","baseline":"middle","fontSize":11,"color":"#ffffff"},
 "encoding":{"x":{"datum":0.75},"y":{"datum":1.18743},"text":{"field":"t"}}},
{"data":{"values":[{"t":"left"}]},
 "mark":{"type":"rule","color":"#ffffff","strokeWidth":3},
 "encoding":{"x":{"datum":-0.75}}},
{"data":{"values":[{"t":"wm"}]},
 "mark":{"type":"rect","color":"#8c8c8c","opacity":0.8,"clip":false},
 "encoding":{"x":{"datum":-0.75},"x2":{"datum":44.25},"y":{"datum":1.13772},"y2":{"datum":1.1345}}},
{"data":{"values":[{"t":"⚙"}]},
 "mark":{"type":"text","align":"center","baseline":"middle","fontSize":32,"font":"DejaVu Sans","color":"#f2f2f2","opacity":0.85,"clip":false},
 "encoding":{"x":{"datum":4.75},"y":{"datum":1.1365},"text":{"field":"t"}}},
{"data":{"values":[{"t":"instaforex"}]},
 "mark":{"type":"text","align":"left","baseline":"middle","fontSize":30,"font":"Lato","color":"#f2f2f2","opacity":0.85,"clip":false},
 "encoding":{"x":{"datum":9.25},"y":{"datum":1.13657},"text":{"field":"t"}}},
{"data":{"values":[{"t":"Instant Forex Trading"}]},
 "mark":{"type":"text","align":"left","baseline":"middle","fontSize":11,"color":"#f2f2f2","opacity":0.85,"clip":false},
 "encoding":{"x":{"datum":11.25},"y":{"datum":1.13514},"text":{"field":"t"}}}
]
}
